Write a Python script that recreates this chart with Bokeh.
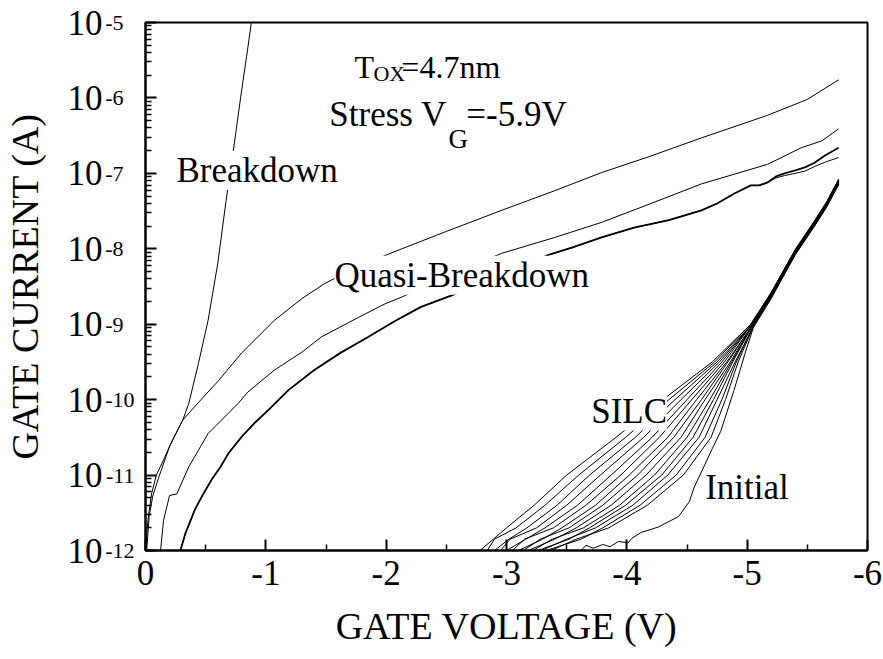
from bokeh.plotting import figure
from bokeh.models import Range1d, FixedTicker, Label, LogAxis
from bokeh.embed import file_html
from bokeh.resources import INLINE

FONT = "Liberation Serif"

# ---------------- data (gate voltage V, log10 of gate current A) ----------------
x_major_ticks = [0, -1, -2, -3, -4, -5, -6]
x_tick_labels = ["0", "-1", "-2", "-3", "-4", "-5", "-6"]
x_minor_ticks = [-0.5, -1.5, -2.5, -3.5, -4.5, -5.5]
y_decades = [-12, -11, -10, -9, -8, -7, -6, -5]
y_tick_base = "10"
y_tick_exponents = ["-12", "-11", "-10", "-9", "-8", "-7", "-6", "-5"]

bd_v = [0.0, -0.02, -0.05, -0.09, -0.15, -0.22, -0.31, -0.36, -0.44, -0.52, -0.60, -0.67, -0.73, -0.79, -0.84, -0.88]
bd_logi = [-12.0, -11.6, -11.25, -11.0, -10.8, -10.55, -10.27, -10.05, -9.52, -8.95, -8.2, -7.36, -6.70, -6.0, -5.45, -5.0]

qb1_v = [-0.01, -0.03, -0.06, -0.11, -0.20, -0.31, -0.45, -0.60, -0.80, -1.07, -1.30, -1.49, -1.75, -2.02, -2.13, -2.50,
         -2.96, -3.40, -3.79, -4.20, -4.62, -5.17, -5.50, -5.76]
qb1_logi = [-12.0, -11.55, -11.28, -11.03, -10.62, -10.27, -10.02, -9.76, -9.38, -8.95, -8.66, -8.46, -8.25, -8.07, -8.0, -7.77,
            -7.49, -7.23, -6.99, -6.77, -6.53, -6.23, -6.02, -5.76]

qb2_v = [-0.125, -0.15, -0.20, -0.26, -0.36, -0.52, -0.77, -0.85, -1.07, -1.30, -1.46, -1.77, -1.99, -2.13, -2.55,
         -2.96, -3.40, -3.79, -4.20, -4.62, -5.17, -5.45, -5.62, -5.76]
qb2_logi = [-12.0, -11.6, -11.27, -11.25, -10.89, -10.45, -10.05, -9.90, -9.61, -9.37, -9.17, -8.91, -8.73, -8.64, -8.33,
            -8.06, -7.85, -7.65, -7.40, -7.14, -6.88, -6.66, -6.57, -6.41]

qb3_v = [-0.29, -0.33, -0.37, -0.41, -0.48, -0.55, -0.62, -0.69, -0.80, -0.90, -1.02, -1.19, -1.40, -1.62, -1.85, -2.07,
         -2.29, -2.54, -2.95, -3.35, -3.55, -3.79, -4.06, -4.35, -4.62, -4.75, -4.89, -5.03, -5.10, -5.17, -5.24, -5.31,
         -5.40, -5.48, -5.56, -5.65, -5.76]
qb3a_logi = [-12.0, -11.78, -11.62, -11.46, -11.25, -11.06, -10.90, -10.71, -10.49, -10.32, -10.14, -9.87, -9.61, -9.38,
             -9.17, -8.96, -8.77, -8.62, -8.36, -8.08, -7.98, -7.85, -7.72, -7.62, -7.49, -7.40, -7.27, -7.16, -7.16, -7.12,
             -7.04, -7.00, -6.96, -6.92, -6.86, -6.76, -6.66]
qb3b_logi = [-12.0, -11.78, -11.62, -11.46, -11.25, -11.06, -10.90, -10.71, -10.49, -10.32, -10.14, -9.87, -9.61, -9.38,
             -9.17, -8.96, -8.77, -8.62, -8.36, -8.08, -7.98, -7.85, -7.72, -7.62, -7.49, -7.40, -7.27, -7.16, -7.16, -7.12,
             -7.06, -7.03, -7.00, -6.97, -6.91, -6.85, -6.79]

initial_v = [-3.62, -3.66, -3.72, -3.80, -3.86, -3.93, -4.01, -4.04, -4.12, -4.26, -4.43, -4.52, -4.56, -4.64, -4.71,
             -4.78, -4.89, -4.98, -5.05, -5.20, -5.40, -5.56, -5.66, -5.76]
initial_logi = [-12.0, -11.93, -11.97, -11.92, -11.95, -11.88, -11.90, -11.84, -11.76, -11.69, -11.55, -11.35, -11.16,
                -10.89, -10.65, -10.42, -9.88, -9.40, -9.05, -8.66, -8.08, -7.70, -7.45, -7.15]

# SILC family: lower part, voltage where each curve reaches these current levels
silc_lower_logi = [-12.0, -11.85, -11.7, -11.4, -11.0, -10.5, -10.0, -9.5, -9.0]
silc_lower_v = [
    [-2.78, -2.89, -3.00, -3.23, -3.50, -3.91, -4.30, -4.71, -5.03],
    [-2.84, -2.90, -3.08, -3.32, -3.60, -3.99, -4.35, -4.73, -5.03],
    [-2.90, -3.02, -3.17, -3.42, -3.69, -4.07, -4.40, -4.75, -5.04],
    [-2.95, -3.03, -3.25, -3.50, -3.78, -4.14, -4.45, -4.77, -5.04],
    [-3.00, -3.16, -3.32, -3.59, -3.87, -4.21, -4.50, -4.79, -5.04],
    [-3.05, -3.15, -3.39, -3.66, -3.95, -4.27, -4.54, -4.81, -5.04],
    [-3.10, -3.30, -3.46, -3.74, -4.02, -4.34, -4.58, -4.83, -5.05],
    [-3.14, -3.28, -3.52, -3.80, -4.09, -4.39, -4.62, -4.84, -5.05],
    [-3.18, -3.40, -3.58, -3.87, -4.16, -4.45, -4.65, -4.86, -5.05],
    [-3.22, -3.38, -3.64, -3.94, -4.23, -4.50, -4.69, -4.87, -5.05],
    [-3.26, -3.52, -3.69, -3.99, -4.29, -4.55, -4.72, -4.88, -5.05],
    [-3.29, -3.50, -3.74, -4.05, -4.34, -4.60, -4.75, -4.90, -5.06],
    [-3.33, -3.62, -3.80, -4.11, -4.41, -4.65, -4.79, -4.91, -5.06],
    [-3.37, -3.58, -3.85, -4.17, -4.47, -4.70, -4.82, -4.925, -5.06],
]
# SILC family: upper (converged) part, current at these voltages
silc_upper_v = [-5.2, -5.4, -5.56, -5.66, -5.76]
silc_upper_logi = [
    [-8.58, -8.01, -7.63, -7.38, -7.08],
    [-8.58, -8.01, -7.63, -7.38, -7.08],
    [-8.59, -8.02, -7.64, -7.39, -7.09],
    [-8.59, -8.02, -7.64, -7.39, -7.09],
    [-8.60, -8.03, -7.65, -7.40, -7.10],
    [-8.60, -8.03, -7.65, -7.40, -7.10],
    [-8.61, -8.04, -7.66, -7.41, -7.11],
    [-8.61, -8.04, -7.66, -7.41, -7.11],
    [-8.62, -8.05, -7.67, -7.42, -7.12],
    [-8.62, -8.05, -7.67, -7.42, -7.12],
    [-8.63, -8.06, -7.68, -7.43, -7.13],
    [-8.63, -8.06, -7.68, -7.43, -7.13],
    [-8.64, -8.07, -7.69, -7.44, -7.14],
    [-8.64, -8.07, -7.69, -7.44, -7.14],
]

# text anchors (left end of the baseline) for the curve labels
curve_label_texts = ["Breakdown", "Quasi-Breakdown", "SILC", "Initial"]
curve_label_v = [-0.257, -1.570, -3.704, -4.651]
curve_label_logi = [-7.121, -8.511, -10.310, -11.329]

# condition annotation pieces (with subscripts)
cond_texts = ["T", "OX", "=4.7nm", "Stress V", "G", "=-5.9V"]
cond_v = [-1.736, -1.894, -2.126, -1.528, -2.517, -2.666]
cond_logi = [-5.732, -5.772, -5.732, -6.380, -6.659, -6.380]
cond_sizes = [32, 22, 32, 35, 27, 35]

# ---------------- figure ----------------
p = figure(width=883, height=659, output_backend="svg", toolbar_location=None,
           x_range=Range1d(0, -6), y_range=Range1d(1e-12, 1e-5), y_axis_type="log",
           min_border_left=144, min_border_right=16, min_border_top=22, min_border_bottom=109,
           background_fill_color="white", border_fill_color="white")
p.outline_line_color = "black"
p.outline_line_width = 2
p.xgrid.visible = False
p.ygrid.visible = False

y_major_vals = [10.0 ** e for e in y_decades]
p.xaxis.ticker = FixedTicker(ticks=x_major_ticks, minor_ticks=x_minor_ticks)
p.yaxis.ticker = FixedTicker(ticks=y_major_vals,
                             minor_ticks=[m * 10.0 ** e for e in y_decades[:-1] for m in range(2, 10)])
p.xaxis.major_label_overrides = {t: s for t, s in zip(x_major_ticks, x_tick_labels)}
# inner y axis: ticks + raised exponents (single-digit ones padded so they sit flush against the base)
p.yaxis.major_label_overrides = {t: (s if len(s) > 2 else s + "\u00a0\u00a0")
                                 for t, s in zip(y_major_vals, y_tick_exponents)}

for ax in (p.xaxis[0], p.yaxis[0]):
    ax.axis_line_width = 2
    ax.axis_line_color = "black"
    ax.major_tick_in = 11
    ax.major_tick_out = 0
    ax.minor_tick_in = 6
    ax.minor_tick_out = 0
    ax.major_tick_line_width = 2
    ax.minor_tick_line_width = 1.5
    ax.major_tick_line_color = "black"
    ax.minor_tick_line_color = "black"
    ax.major_label_text_font = FONT
    ax.major_label_text_color = "black"
    ax.axis_label_text_font = FONT
    ax.axis_label_text_font_style = "normal"
    ax.axis_label_text_color = "black"

p.xaxis.axis_label = "GATE VOLTAGE (V)"
p.xaxis.major_label_text_font_size = "35px"
p.xaxis.axis_label_text_font_size = "38px"
p.xaxis.major_label_standoff = 10
p.xaxis.axis_label_standoff = 17

p.yaxis.major_label_text_font_size = "22px"
p.yaxis.major_label_text_baseline = "alphabetic"
p.yaxis.major_label_standoff = 11

# outer y axis: the base "10" of each tick label, plus the axis title
base_axis = LogAxis(ticker=FixedTicker(ticks=y_major_vals, minor_ticks=[]),
                    major_label_overrides={t: y_tick_base for t in y_major_vals},
                    axis_line_color=None, major_tick_line_color=None, minor_tick_line_color=None,
                    major_tick_in=0, major_tick_out=0, minor_tick_in=0, minor_tick_out=0,
                    major_label_standoff=0, major_label_text_font=FONT, major_label_text_font_size="35px",
                    major_label_text_color="black",
                    axis_label="GATE CURRENT (A)", axis_label_text_font=FONT, axis_label_text_font_size="38px",
                    axis_label_text_font_style="normal", axis_label_text_color="black", axis_label_standoff=19)
p.add_layout(base_axis, "left")


def lin(logs):
    return [10.0 ** v for v in logs]


p.line(bd_v, lin(bd_logi), line_color="black", line_width=1)
p.line(qb1_v, lin(qb1_logi), line_color="black", line_width=1)
p.line(qb2_v, lin(qb2_logi), line_color="black", line_width=1)
p.line(qb3_v, lin(qb3a_logi), line_color="black", line_width=1.8)
p.line(qb3_v, lin(qb3b_logi), line_color="black", line_width=1)
p.line(initial_v, lin(initial_logi), line_color="black", line_width=1)
for lower_v, upper_logi in zip(silc_lower_v, silc_upper_logi):
    p.line(lower_v + silc_upper_v, lin(silc_lower_logi + upper_logi), line_color="black", line_width=1)

# baseline correction (screen px, upward) proportional to font size
BASE_SHIFT = 0.34

for t, v, li in zip(curve_label_texts, curve_label_v, curve_label_logi):
    p.add_layout(Label(x=v, y=10.0 ** li, text=t, text_font=FONT, text_font_size="35px",
                       text_color="black", text_align="left", text_baseline="alphabetic",
                       y_offset=round(BASE_SHIFT * 35), background_fill_color="white"))

for t, v, li, s in zip(cond_texts, cond_v, cond_logi, cond_sizes):
    p.add_layout(Label(x=v, y=10.0 ** li, text=t, text_font=FONT, text_font_size=f"{s}px",
                       text_color="black", text_align="left", text_baseline="alphabetic",
                       y_offset=round(BASE_SHIFT * s)))

open("out.html", "w").write(file_html(p, INLINE))
